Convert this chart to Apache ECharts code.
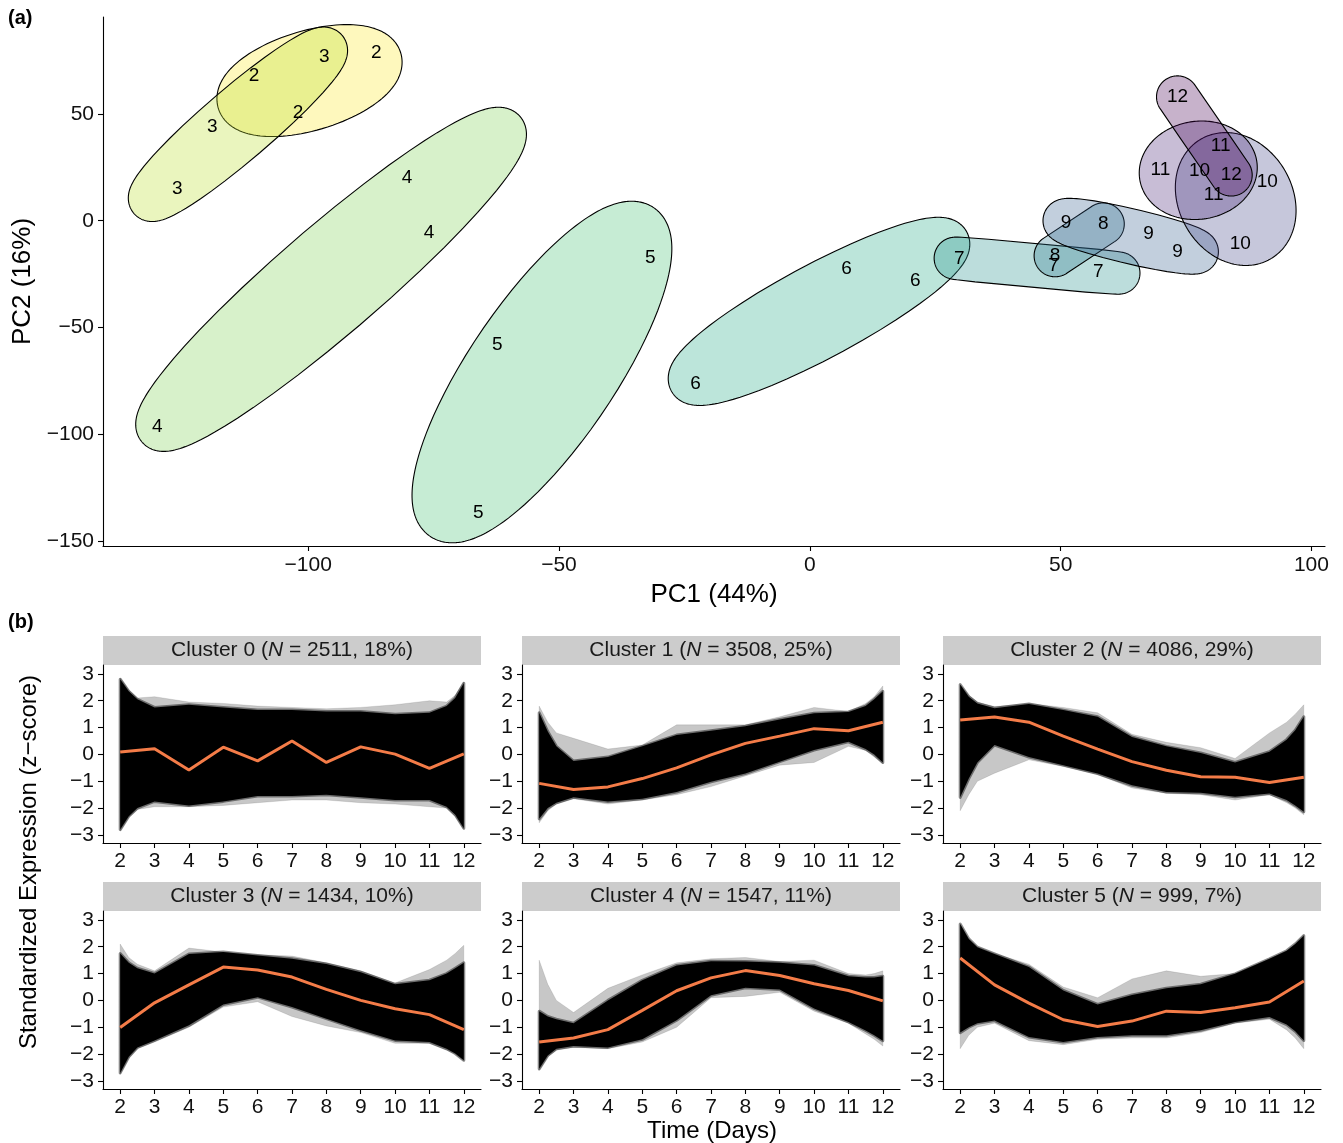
<!DOCTYPE html>
<html>
<head>
<meta charset="utf-8">
<title>PCA and expression clusters</title>
<script src="https://cdn.jsdelivr.net/npm/echarts@6/dist/echarts.min.js"></script>
<style>
  html, body { margin: 0; padding: 0; background: #fff; }
  #chart { width: 1343px; height: 1143px; }
</style>
</head>
<body>
<div id="chart"></div>
<script>
// ---- (a) PCA: one entry per sample ----
const sampleDay = [2, 2, 2, 3, 3, 3, 4, 4, 4, 5, 5, 5, 6, 6, 6, 7, 7, 7, 8, 8, 9, 9, 9, 10, 10, 10, 11, 11, 11, 12, 12];
const pc1 = [-86.4, -110.8, -102.0, -96.8, -119.1, -126.1, -80.3, -75.9, -130.1, -31.8, -62.3, -66.1,
  7.3, 21.0, -22.8, 29.8, 48.6, 57.5, 58.5, 48.9, 51.1, 67.5, 73.3, 77.7, 91.2, 85.8, 69.9, 81.9, 80.5, 73.3, 84.0];
const pc2 = [78.6, 67.8, 50.5, 76.7, 43.9, 14.9, 20.0, -5.7, -96.6, -17.4, -58.2, -136.9,
  -22.6, -28.2, -76.5, -17.9, -21.2, -24.0, -1.5, -16.4, -1.0, -6.2, -14.6, 23.3, 18.1, -10.9, 23.8, 35.0, 12.1, 58.0, 21.4];
const days = [2, 3, 4, 5, 6, 7, 8, 9, 10, 11, 12];
const pcTicksX = [-100, -50, 0, 50, 100];
const pcTicksY = [-150, -100, -50, 0, 50];

// ---- (b) clusters ----
const timeDays = [2, 3, 4, 5, 6, 7, 8, 9, 10, 11, 12];
// x positions at which the edges of the gene traces were read
const bandX = [2, 2.25, 2.5, 3, 4, 5, 6, 7, 8, 9, 10, 11, 11.5, 11.75, 12];

// mean profile, dense core of traces (upper/lower), sparse outliers (outerUp/outerLo)
const mean0 = [0.09, 0.21, -0.58, 0.27, -0.24, 0.5, -0.3, 0.28, 0.01, -0.52, 0.02];
const upper0 = [2.8, 2.35, 2.05, 1.75, 1.85, 1.75, 1.65, 1.65, 1.6, 1.6, 1.5, 1.55, 1.8, 2.1, 2.65];
const lower0 = [-2.8, -2.3, -2.0, -1.75, -1.9, -1.75, -1.55, -1.55, -1.5, -1.6, -1.7, -1.7, -1.95, -2.25, -2.75];
const outerUp0 = [2.85, 2.4, 2.1, 2.15, 1.95, 1.9, 1.8, 1.75, 1.7, 1.75, 1.85, 2.0, 1.95, 2.2, 2.7];
const outerLo0 = [-2.85, -2.35, -2.05, -1.95, -1.95, -1.9, -1.8, -1.7, -1.7, -1.8, -1.85, -1.95, -2.0, -2.3, -2.8];

const mean1 = [-1.08, -1.31, -1.21, -0.9, -0.5, -0.02, 0.41, 0.68, 0.96, 0.88, 1.2];
const upper1 = [1.55, 0.85, 0.3, -0.25, -0.1, 0.3, 0.72, 0.88, 1.05, 1.3, 1.53, 1.58, 1.8, 2.05, 2.35];
const lower1 = [-2.4, -2.0, -1.8, -1.6, -1.75, -1.65, -1.4, -1.02, -0.71, -0.27, 0.16, 0.47, 0.2, 0.0, -0.3];
const outerUp1 = [1.8, 1.2, 0.8, 0.6, 0.2, 0.35, 1.1, 1.1, 1.1, 1.4, 1.75, 1.6, 1.9, 2.15, 2.55];
const outerLo1 = [-2.55, -2.1, -1.85, -1.65, -1.85, -1.7, -1.5, -1.2, -0.8, -0.4, -0.3, 0.3, 0.15, -0.1, -0.35];

const mean2 = [1.28, 1.39, 1.2, 0.68, 0.2, -0.27, -0.59, -0.83, -0.85, -1.05, -0.85];
const upper2 = [2.6, 2.15, 1.9, 1.72, 1.88, 1.65, 1.4, 0.65, 0.3, 0.05, -0.3, 0.1, 0.55, 0.9, 1.4];
const lower2 = [-1.6, -0.9, -0.3, 0.35, -0.1, -0.4, -0.71, -1.15, -1.4, -1.43, -1.58, -1.46, -1.7, -1.9, -2.14];
const outerUp2 = [2.6, 2.2, 1.95, 1.78, 1.9, 1.75, 1.55, 0.75, 0.45, 0.25, -0.15, 0.8, 1.2, 1.5, 1.85];
const outerLo2 = [-2.1, -1.5, -1.0, -0.7, -0.2, -0.45, -0.75, -1.25, -1.45, -1.5, -1.7, -1.5, -1.8, -2.0, -2.25];

const mean3 = [-1.01, -0.09, 0.58, 1.24, 1.13, 0.87, 0.41, 0.0, -0.31, -0.53, -1.09];
const upper3 = [1.75, 1.4, 1.2, 1.0, 1.73, 1.8, 1.67, 1.55, 1.36, 1.05, 0.6, 0.75, 1.0, 1.2, 1.4];
const lower3 = [-2.7, -2.1, -1.75, -1.49, -0.93, -0.15, 0.12, -0.25, -0.68, -1.11, -1.49, -1.55, -1.8, -1.98, -2.23];
const outerUp3 = [2.1, 1.6, 1.35, 1.1, 1.95, 1.8, 1.7, 1.65, 1.4, 1.1, 0.65, 1.15, 1.5, 1.75, 2.05];
const outerLo3 = [-2.75, -2.15, -1.8, -1.55, -1.0, -0.25, -0.05, -0.6, -0.95, -1.2, -1.6, -1.6, -1.85, -2.0, -2.25];

const mean4 = [-1.55, -1.4, -1.09, -0.37, 0.36, 0.84, 1.11, 0.93, 0.62, 0.37, -0.02];
const upper4 = [-0.4, -0.6, -0.7, -0.85, 0.0, 0.75, 1.3, 1.46, 1.45, 1.4, 1.3, 0.9, 0.85, 0.85, 0.9];
const lower4 = [-2.55, -2.05, -1.8, -1.7, -1.75, -1.45, -0.74, 0.19, 0.47, 0.41, -0.3, -0.8, -1.12, -1.3, -1.5];
const outerUp4 = [1.5, 0.6, 0.0, -0.45, 0.45, 0.95, 1.4, 1.55, 1.6, 1.45, 1.5, 1.0, 0.95, 1.0, 1.1];
const outerLo4 = [-2.6, -2.1, -1.85, -1.75, -1.8, -1.55, -1.0, 0.1, 0.15, 0.3, -0.4, -0.85, -1.25, -1.45, -1.7];

const mean5 = [1.58, 0.58, -0.1, -0.72, -0.97, -0.77, -0.4, -0.45, -0.27, -0.06, 0.72];
const upper5 = [2.85, 2.29, 1.98, 1.73, 1.24, 0.37, -0.15, 0.2, 0.45, 0.6, 0.99, 1.55, 1.85, 2.1, 2.41];
const lower5 = [-1.2, -1.0, -0.85, -0.75, -1.36, -1.55, -1.36, -1.3, -1.3, -1.11, -0.8, -0.62, -0.9, -1.15, -1.49];
const outerUp5 = [2.85, 2.3, 2.0, 1.75, 1.35, 0.5, 0.1, 0.8, 1.1, 0.9, 1.0, 1.55, 1.85, 2.1, 2.45];
const outerLo5 = [-1.8, -1.3, -1.0, -0.85, -1.5, -1.65, -1.45, -1.4, -1.4, -1.2, -0.85, -0.7, -1.1, -1.4, -1.8];

const clusterN = [2511, 3508, 4086, 1434, 1547, 999];
const clusterPct = [18, 25, 29, 10, 11, 7];
const zTicks = [-3, -2, -1, 0, 1, 2, 3];

// ---- styling ----
const FONT = 'Liberation Sans, Arial, Helvetica, sans-serif';
const dayColors = ['#FDE725', '#BBDF27', '#7AD151', '#43BF71', '#22A884', '#21908C',
  '#2A788E', '#35608D', '#414487', '#482576', '#440154'];
const orange = '#F47C48';
const markExpand = 21; // px around each group's enclosing ellipse

const means = [mean0, mean1, mean2, mean3, mean4, mean5];
const uppers = [upper0, upper1, upper2, upper3, upper4, upper5];
const lowers = [lower0, lower1, lower2, lower3, lower4, lower5];
const outerUps = [outerUp0, outerUp1, outerUp2, outerUp3, outerUp4, outerUp5];
const outerLos = [outerLo0, outerLo1, outerLo2, outerLo3, outerLo4, outerLo5];

const minus = v => String(v).replace('-', '\u2212');

function withAlpha(hex, a) {
  const n = parseInt(hex.slice(1), 16);
  return 'rgba(' + (n >> 16) + ',' + ((n >> 8) & 255) + ',' + (n & 255) + ',' + a + ')';
}

// enclosing ellipse of the group's points (in pixels), grown by r
function markShape(pts, r) {
  let cx, cy, a, b;
  if (pts.length >= 3) {
    const [A, B, C] = pts;
    cx = (A[0] + B[0] + C[0]) / 3;
    cy = (A[1] + B[1] + C[1]) / 3;
    a = [A[0] - cx, A[1] - cy];
    b = [(C[0] - B[0]) / Math.sqrt(3), (C[1] - B[1]) / Math.sqrt(3)];
  } else {
    const [A, B] = pts;
    cx = (A[0] + B[0]) / 2;
    cy = (A[1] + B[1]) / 2;
    a = [(A[0] - B[0]) / 2, (A[1] - B[1]) / 2];
    b = [-a[1] * 0.002, a[0] * 0.002];
  }
  const out = [];
  const n = 240;
  for (let k = 0; k < n; k++) {
    const t = k / n * Math.PI * 2 + 0.001;
    const nx = Math.cos(t), ny = Math.sin(t);
    const u = a[0] * nx + a[1] * ny;
    const v = b[0] * nx + b[1] * ny;
    const len = Math.hypot(u, v) || 1e-9;
    out.push([
      cx + (a[0] * u + b[0] * v) / len + r * nx,
      cy + (a[1] * u + b[1] * v) / len + r * ny
    ]);
  }
  return out;
}

// polygon between two edges read at bandX
function bandPoints(api, up, lo) {
  const pts = [];
  bandX.forEach((x, i) => pts.push(api.coord([x, up[i]])));
  for (let i = bandX.length - 1; i >= 0; i--) pts.push(api.coord([bandX[i], lo[i]]));
  return pts;
}

const axisLine = { show: true, onZero: false, lineStyle: { color: '#000', width: 1.1 } };
const tickStyle = { color: '#000', width: 1.1 };
const labelBase = { color: '#111', fontSize: 21, fontFamily: FONT };

// ---- layout ----
const panelLeft = [103, 522, 943];
const panelTop = [665, 911];
const panelW = 378, panelH = 178, stripH = 29;

const grids = [{ left: 103, top: 17, width: 1222, height: 529 }];
const xAxes = [{
  gridIndex: 0, type: 'value', min: -140.9, max: 102.7,
  axisLine: axisLine,
  axisTick: { customValues: pcTicksX, length: 5, lineStyle: tickStyle },
  axisLabel: Object.assign({ customValues: pcTicksX, formatter: minus, margin: 9 }, labelBase),
  splitLine: { show: false },
  name: 'PC1 (44%)', nameLocation: 'middle', nameGap: 36,
  nameTextStyle: { fontSize: 26, fontFamily: FONT, color: '#000' }
}];
const yAxes = [{
  gridIndex: 0, type: 'value', min: -152.3, max: 95.4,
  axisLine: axisLine,
  axisTick: { customValues: pcTicksY, length: 5, lineStyle: tickStyle },
  axisLabel: Object.assign({ customValues: pcTicksY, formatter: minus, margin: 9 }, labelBase),
  splitLine: { show: false },
  name: 'PC2 (16%)', nameLocation: 'middle', nameGap: 62,
  nameTextStyle: { fontSize: 26, fontFamily: FONT, color: '#000' }
}];

const series = [];

// ellipses, one per day
series.push({
  type: 'custom', xAxisIndex: 0, yAxisIndex: 0, silent: true, z: 2,
  data: days.map(d => {
    const k = sampleDay.indexOf(d);
    return [pc1[k], pc2[k], d];
  }),
  renderItem: (params, api) => {
    const d = api.value(2);
    const pts = [];
    sampleDay.forEach((sd, k) => {
      if (sd === d) pts.push(api.coord([pc1[k], pc2[k]]));
    });
    return {
      type: 'polygon',
      shape: { points: markShape(pts, markExpand) },
      style: { fill: withAlpha(dayColors[params.dataIndex], 0.3), stroke: '#000', lineWidth: 1.1 }
    };
  }
});

// sample labels
series.push({
  type: 'custom', xAxisIndex: 0, yAxisIndex: 0, silent: true, z: 3,
  data: sampleDay.map((d, k) => [pc1[k], pc2[k], d]),
  renderItem: (params, api) => {
    const p = api.coord([api.value(0), api.value(1)]);
    return {
      type: 'text', x: p[0], y: p[1],
      style: {
        text: String(api.value(2)), fill: '#000', font: '19px ' + FONT,
        textAlign: 'center', textVerticalAlign: 'middle'
      }
    };
  }
});

const graphics = [];

for (let c = 0; c < 6; c++) {
  const col = c % 3, row = Math.floor(c / 3);
  const gi = c + 1;
  grids.push({ left: panelLeft[col], top: panelTop[row], width: panelW, height: panelH });
  xAxes.push({
    gridIndex: gi, type: 'value', min: 1.5, max: 12.5,
    axisLine: axisLine,
    axisTick: { customValues: timeDays, length: 5, lineStyle: tickStyle },
    axisLabel: Object.assign({ customValues: timeDays, margin: 8 }, labelBase),
    splitLine: { show: false }
  });
  yAxes.push({
    gridIndex: gi, type: 'value', min: -3.3, max: 3.33,
    axisLine: axisLine,
    axisTick: { customValues: zTicks, length: 5, lineStyle: tickStyle },
    axisLabel: Object.assign({ customValues: zTicks, formatter: minus, margin: 9 }, labelBase),
    splitLine: { show: false }
  });

  const up = uppers[c], lo = lowers[c], oUp = outerUps[c], oLo = outerLos[c];
  // sparse outlying traces
  series.push({
    type: 'custom', xAxisIndex: gi, yAxisIndex: gi, silent: true, z: 1,
    data: [[bandX[0], oLo[0]]],
    renderItem: (params, api) => ({
      type: 'polygon', shape: { points: bandPoints(api, oUp, oLo) },
      style: { fill: 'rgba(0,0,0,0.22)', stroke: 'rgba(0,0,0,0.1)', lineWidth: 1 }
    })
  });
  // dense core of traces
  series.push({
    type: 'custom', xAxisIndex: gi, yAxisIndex: gi, silent: true, z: 2,
    data: [[bandX[0], lo[0]]],
    renderItem: (params, api) => ({
      type: 'polygon', shape: { points: bandPoints(api, up, lo) },
      style: { fill: '#000', stroke: 'rgba(0,0,0,0.45)', lineWidth: 3, lineJoin: 'round' }
    })
  });
  series.push({
    type: 'line', xAxisIndex: gi, yAxisIndex: gi, z: 4, silent: true,
    data: timeDays.map((d, i) => [d, means[c][i]]),
    symbol: 'none',
    lineStyle: { color: orange, width: 3 }
  });

  // facet strip
  graphics.push({
    type: 'rect', left: panelLeft[col], top: panelTop[row] - stripH,
    shape: { width: panelW, height: stripH }, style: { fill: '#cccccc' }
  });
  graphics.push({
    type: 'text', x: panelLeft[col] + panelW / 2, y: panelTop[row] - stripH / 2,
    style: {
      text: 'Cluster ' + c + ' ({i|N} = ' + clusterN[c] + ', ' + clusterPct[c] + '%)',
      font: '21px ' + FONT, fill: '#1a1a1a',
      textAlign: 'center', textVerticalAlign: 'middle',
      rich: { i: { fontStyle: 'italic', fontSize: 21, fontFamily: FONT, fill: '#1a1a1a' } }
    }
  });
}

graphics.push(
  { type: 'text', x: 8, y: 18, style: { text: '(a)', font: 'bold 20px ' + FONT, fill: '#000', textVerticalAlign: 'middle' } },
  { type: 'text', x: 8, y: 622, style: { text: '(b)', font: 'bold 20px ' + FONT, fill: '#000', textVerticalAlign: 'middle' } },
  {
    type: 'text', x: 29, y: 862, rotation: Math.PI / 2,
    style: { text: 'Standardized Expression (z\u2212score)', font: '24px ' + FONT, fill: '#000', textAlign: 'center', textVerticalAlign: 'middle' }
  },
  {
    type: 'text', x: 712, y: 1131,
    style: { text: 'Time (Days)', font: '24px ' + FONT, fill: '#000', textAlign: 'center', textVerticalAlign: 'middle' }
  }
);

const myChart = echarts.init(document.getElementById('chart'));
myChart.setOption({
  animation: false,
  backgroundColor: '#fff',
  textStyle: { fontFamily: FONT },
  grid: grids,
  xAxis: xAxes,
  yAxis: yAxes,
  series: series,
  graphic: graphics
});
</script>
</body>
</html>
